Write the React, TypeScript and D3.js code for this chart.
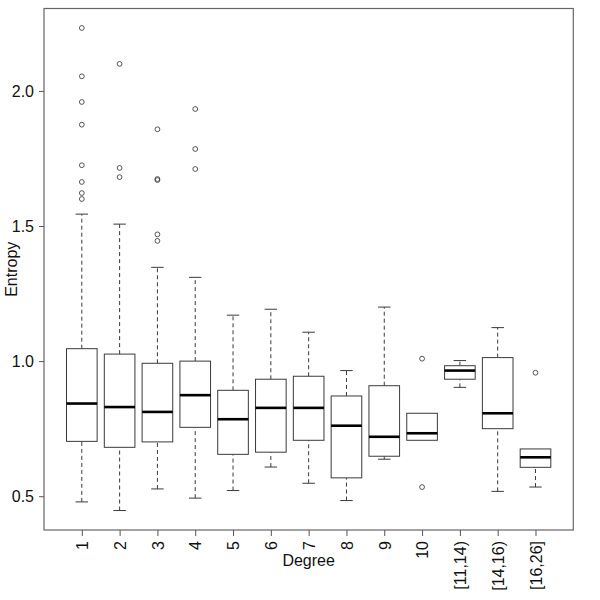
import React, { useEffect, useRef } from 'react';
import * as d3 from 'd3';

const categories = ['1', '2', '3', '4', '5', '6', '7', '8', '9', '10', '[11,14)', '[14,16)', '[16,26]'];
const lowerWhisker = [0.479, 0.447, 0.527, 0.493, 0.521, 0.608, 0.548, 0.484, 0.637, 0.707, 0.903, 0.518, 0.534];
const q1 = [0.703, 0.681, 0.701, 0.755, 0.655, 0.663, 0.707, 0.568, 0.648, 0.707, 0.933, 0.750, 0.607];
const medians = [0.843, 0.830, 0.812, 0.874, 0.785, 0.827, 0.827, 0.761, 0.720, 0.733, 0.965, 0.807, 0.644];
const q3 = [1.046, 1.026, 0.992, 1.000, 0.892, 0.933, 0.944, 0.871, 0.909, 0.807, 0.983, 1.013, 0.675];
const upperWhisker = [1.544, 1.507, 1.347, 1.310, 1.170, 1.192, 1.107, 0.965, 1.200, 0.807, 1.002, 1.124, 0.675];
const outliers = [
    [2.233, 2.054, 1.959, 1.875, 1.725, 1.663, 1.622, 1.600],
    [2.100, 1.715, 1.681],
    [1.858, 1.674, 1.670, 1.469, 1.445],
    [1.933, 1.785, 1.711],
    [], [], [], [], [],
    [1.009, 0.534],
    [],
    [],
    [0.957],
];
const yTicks = [0.5, 1.0, 1.5, 2.0];

const BoxPlot = ({ width, height }) => {
    const chartRef = useRef(null);

    useEffect(() => {
        const svg = d3.select(chartRef.current)
            .attr('width', width)
            .attr('height', height);

        const left = 44, right = 573.3, top = 8.5, bottom = 530;
        const font = 'Liberation Sans, Arial, Helvetica, sans-serif';
        const stroke = '#3a3a3a';

        const x = d3.scaleLinear().domain([0, 14]).range([left, right]);
        const y = d3.scaleLinear().domain([0.375, 2.305]).range([bottom, top]);
        const boxHalf = 0.405;
        const capHalf = 0.165;

        // frame
        svg.append('rect')
            .attr('x', left).attr('y', top)
            .attr('width', right - left).attr('height', bottom - top)
            .attr('fill', 'none').attr('stroke', '#666').attr('stroke-width', 1.2);

        // y axis
        const yAxis = svg.append('g')
            .attr('transform', `translate(${left},0)`)
            .call(d3.axisLeft(y).tickValues(yTicks).tickFormat(d3.format('.1f')).tickSize(5).tickPadding(5));
        yAxis.select('.domain').remove();
        yAxis.selectAll('line').attr('stroke', '#555');
        yAxis.selectAll('text')
            .attr('fill', '#111')
            .style('font-size', '16px')
            .style('font-family', font)
            .attr('dy', '0.36em');

        // x axis
        const xAxis = svg.append('g')
            .attr('transform', `translate(0,${bottom})`)
            .call(d3.axisBottom(x).tickValues(d3.range(1, categories.length + 1))
                .tickFormat((d, i) => categories[i]).tickSize(6));
        xAxis.select('.domain').remove();
        xAxis.selectAll('line').attr('stroke', '#555');
        xAxis.selectAll('text')
            .attr('fill', '#111')
            .style('font-size', '16px')
            .style('font-family', font)
            .attr('text-anchor', 'end')
            .attr('transform', 'rotate(-90)')
            .attr('x', -11)
            .attr('y', 0)
            .attr('dy', '0.36em');

        const g = svg.append('g');
        categories.forEach((c, i) => {
            const cx = i + 1;
            // whiskers
            [[q3[i], upperWhisker[i]], [lowerWhisker[i], q1[i]]].forEach(([a, b]) => {
                if (b - a <= 0.0001) return;
                g.append('line')
                    .attr('x1', x(cx)).attr('x2', x(cx))
                    .attr('y1', y(a)).attr('y2', y(b))
                    .attr('stroke', stroke).attr('stroke-dasharray', '4,3');
            });
            [lowerWhisker[i], upperWhisker[i]].forEach((v, k) => {
                if (k === 0 && Math.abs(v - q1[i]) < 0.0001) return;
                if (k === 1 && Math.abs(v - q3[i]) < 0.0001) return;
                g.append('line')
                    .attr('x1', x(cx - capHalf)).attr('x2', x(cx + capHalf))
                    .attr('y1', y(v)).attr('y2', y(v))
                    .attr('stroke', stroke);
            });
            g.append('rect')
                .attr('x', x(cx - boxHalf))
                .attr('y', y(q3[i]))
                .attr('width', x(cx + boxHalf) - x(cx - boxHalf))
                .attr('height', y(q1[i]) - y(q3[i]))
                .attr('fill', 'white')
                .attr('stroke', stroke);
            g.append('line')
                .attr('x1', x(cx - boxHalf)).attr('x2', x(cx + boxHalf))
                .attr('y1', y(medians[i])).attr('y2', y(medians[i]))
                .attr('stroke', '#000').attr('stroke-width', 2.6);
            outliers[i].forEach(v => {
                g.append('circle')
                    .attr('cx', x(cx)).attr('cy', y(v)).attr('r', 2.4)
                    .attr('fill', 'none').attr('stroke', '#444').attr('stroke-width', 0.9);
            });
        });

        svg.append('text')
            .attr('x', x(7))
            .attr('y', 566)
            .attr('text-anchor', 'middle')
            .style('font-size', '16px')
            .style('font-family', font)
            .attr('fill', '#111')
            .text('Degree');

        svg.append('text')
            .attr('transform', `translate(17,${(top + bottom) / 2}) rotate(-90)`)
            .attr('text-anchor', 'middle')
            .style('font-size', '16px')
            .style('font-family', font)
            .attr('fill', '#111')
            .text('Entropy');

        return () => {
            d3.select(chartRef.current).selectAll('*').remove();
        };
    }, [width, height]);

    return <svg ref={chartRef} style={{ position: 'absolute', left: 0, top: 0, background: 'white' }}></svg>;
};

export default function App() {
    return <BoxPlot width={600} height={600} />;
}
